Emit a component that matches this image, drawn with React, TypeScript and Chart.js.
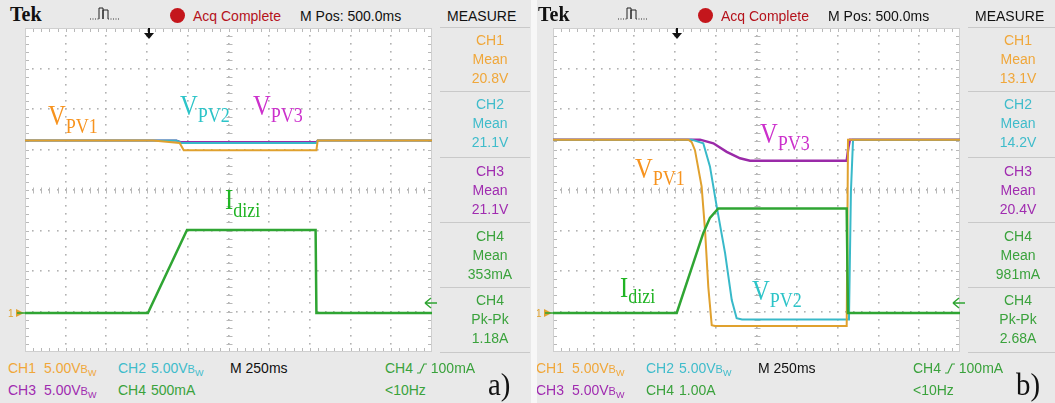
import React, { useEffect, useRef } from "react";
import { Chart, registerables } from "chart.js";

Chart.register(...registerables);

// ---------------- DATA ----------------
// Horizontal: M 250ms/div, 10 divisions across the screen
const TIME_SPAN_MS = 2500;

// Panel a) — CH1..CH3 in volts, CH4 in mA
const A_CH1_T = [0, 786, 950, 975, 1790, 1798, 2500];
const A_CH1_V = [21.3, 21.3, 21.0, 20.1, 20.1, 21.3, 21.3];
const A_CH2_T = [0, 930, 960, 1790, 1798, 2500];
const A_CH2_V = [21.3, 21.3, 21.0, 21.0, 21.3, 21.3];
const A_CH3_T = [0, 930, 960, 1790, 1798, 2500];
const A_CH3_V = [21.3, 21.3, 21.1, 21.1, 21.3, 21.3];
const A_CH4_T = [0, 755, 995, 1785, 1790, 2500];
const A_CH4_I = [0, 0, 1025, 1025, 0, 0];

// Panel b) — CH1..CH3 in volts, CH4 in A
const B_CH1_T = [0, 831, 852, 872, 913, 934, 954, 975, 995, 1804, 1812, 2500];
const B_CH1_V = [21.4, 21.4, 21.1, 20.1, 15.6, 10.2, 3.2, -1.5, -1.6, -1.6, 21.4, 21.4];
const B_CH2_T = [0, 852, 923, 964, 1006, 1057, 1098, 1128, 1161, 1818, 1830, 1843, 2500];
const B_CH2_V = [21.4, 21.4, 20.95, 18.1, 13.1, 7.4, 1.6, -0.65, -0.8, -0.8, 15.0, 21.4, 21.4];
const B_CH3_T = [0, 903, 985, 1067, 1149, 1210, 1804, 1815, 1824, 2500];
const B_CH3_V = [21.4, 21.4, 20.95, 19.9, 19.1, 18.8, 18.8, 20.5, 21.4, 21.4];
const B_CH4_T = [0, 760, 923, 964, 1015, 1804, 1812, 2500];
const B_CH4_I = [0, 0, 1.97, 2.35, 2.58, 2.58, 0, 0];

// Measurements
const MEAS_CH = ["CH1", "CH2", "CH3", "CH4", "CH4"];
const MEAS_TYPE = ["Mean", "Mean", "Mean", "Mean", "Pk-Pk"];
const A_MEAS_VAL = ["20.8V", "21.1V", "21.1V", "353mA", "1.18A"];
const B_MEAS_VAL = ["13.1V", "14.2V", "20.4V", "981mA", "2.68A"];

// Scales
const A_V_PER_DIV = 5;
const A_I_PER_DIV = 500;
const A_CH4_SCALE = "500mA";
const B_V_PER_DIV = 5;
const B_I_PER_DIV = 1;
const B_CH4_SCALE = "1.00A";

// ---------------- STYLE ----------------
const C1 = "#e0a12e";
const C2 = "#38b9c9";
const C3 = "#9a2aa8";
const C4 = "#2fa533";
const T1 = "#f0a73a";
const T2 = "#3fbccb";
const T3 = "#a02cb0";
const T4 = "#3aa23c";
const L1 = "#f7931e";
const L2 = "#2cc4c8";
const L3 = "#cc30cc";
const L4 = "#20b424";
const SANS = "'Liberation Sans', Arial, sans-serif";
const SERIF = "'Liberation Serif', 'Times New Roman', serif";

const GX = 25, GY = 28, GW = 407, GH = 324;
const GROUND_DIV = 0.963;

const graticule = {
  id: "graticule",
  beforeDatasetsDraw(chart: any) {
    const { ctx, chartArea } = chart;
    const { left, top, right, bottom } = chartArea;
    const W = right - left, H = bottom - top;
    const dx = W / 10, dy = H / 8;
    ctx.save();
    ctx.fillStyle = "#ffffff";
    ctx.fillRect(left, top, W, H);
    ctx.fillStyle = "#b2b2b2";
    const dot = (x: number, y: number) => ctx.fillRect(Math.round(x) - 1, Math.round(y) - 1, 1.6, 1.6);
    for (let i = 1; i < 10; i++) {
      const x = left + i * dx;
      for (let j = 0; j <= 40; j++) dot(x, top + (j * dy) / 5);
    }
    for (let j = 1; j < 8; j++) {
      const y = top + j * dy;
      for (let i = 0; i <= 50; i++) dot(left + (i * dx) / 5, y);
    }
    ctx.strokeStyle = "#b8b8b8";
    ctx.lineWidth = 1;
    ctx.beginPath();
    const cx = Math.round(left + 5 * dx) + 0.5;
    const cy = Math.round(top + 4 * dy) + 0.5;
    for (let j = 0; j <= 40; j++) {
      const y = Math.round(top + (j * dy) / 5) + 0.5;
      ctx.moveTo(cx - 3, y); ctx.lineTo(cx + 3, y);
      ctx.moveTo(left, y); ctx.lineTo(left + 4, y);
      ctx.moveTo(right - 4, y); ctx.lineTo(right, y);
    }
    for (let i = 0; i <= 50; i++) {
      const x = Math.round(left + (i * dx) / 5) + 0.5;
      ctx.moveTo(x, cy - 3); ctx.lineTo(x, cy + 3);
      ctx.moveTo(x, top); ctx.lineTo(x, top + 4);
      ctx.moveTo(x, bottom - 4); ctx.lineTo(x, bottom);
    }
    ctx.stroke();
    ctx.strokeStyle = "#cfcfcf";
    ctx.strokeRect(left + 0.5, top + 0.5, W - 1, H - 1);
    ctx.restore();
  },
};

type Series = { t: number[]; v: number[]; color: string; width: number; axis: string };

function Scope({ series, vPerDiv, iPerDiv }: { series: Series[]; vPerDiv: number; iPerDiv: number }) {
  const ref = useRef<HTMLCanvasElement>(null);
  useEffect(() => {
    const chart = new Chart(ref.current as HTMLCanvasElement, {
      type: "line",
      data: {
        datasets: series.map((s) => ({
          data: s.t.map((t, i) => ({ x: t, y: s.v[i] })),
          borderColor: s.color,
          borderWidth: s.width,
          pointRadius: 0,
          tension: 0,
          fill: false,
          yAxisID: s.axis,
        })),
      },
      options: {
        animation: false,
        responsive: false,
        maintainAspectRatio: false,
        events: [],
        layout: { padding: 0 },
        plugins: { legend: { display: false }, tooltip: { enabled: false } },
        scales: {
          x: { type: "linear", min: 0, max: TIME_SPAN_MS, display: false },
          yV: { type: "linear", min: -GROUND_DIV * vPerDiv, max: (8 - GROUND_DIV) * vPerDiv, display: false },
          yI: { type: "linear", min: -GROUND_DIV * iPerDiv, max: (8 - GROUND_DIV) * iPerDiv, display: false },
        },
      } as any,
      plugins: [graticule],
    });
    return () => chart.destroy();
  }, []);
  return (
    <canvas
      ref={ref}
      width={GW}
      height={GH}
      style={{ position: "absolute", left: GX, top: GY, width: GW, height: GH, background: "#fff" }}
    />
  );
}

function T({ x, cy, color, children, size = 14, center, w }: any) {
  return (
    <div
      style={{
        position: "absolute",
        left: x,
        top: cy - size / 2,
        width: w,
        textAlign: center ? "center" : "left",
        fontFamily: SANS,
        fontSize: size,
        lineHeight: `${size}px`,
        color,
        whiteSpace: "nowrap",
      }}
    >
      {children}
    </div>
  );
}

function Label({ x, base, main, sub, color, fs = 30, sfs = 22, dy = 8 }: any) {
  return (
    <div
      style={{
        position: "absolute",
        left: x,
        top: base - 0.8375 * fs,
        fontFamily: SERIF,
        fontSize: fs,
        lineHeight: `${fs}px`,
        color,
        whiteSpace: "nowrap",
        transform: "scaleX(0.82)",
        transformOrigin: "left top",
      }}
    >
      {main}
      <span style={{ fontSize: sfs, position: "relative", top: dy }}>{sub}</span>
    </div>
  );
}

const BW = () => (
  <span>
    5.00V<span style={{ fontSize: 11 }}>B</span>
    <span style={{ fontSize: 9, position: "relative", top: 3 }}>W</span>
  </span>
);

function Panel({ p }: { p: any }) {
  const blocks = [40, 104, 171, 236, 300];
  const seps = [27, 91, 157, 222, 287, 352];
  const measColors = [T1, T2, T3, T4, T4];
  return (
    <div style={{ position: "absolute", left: 0, top: 0, width: 531, height: 403, background: "#e9e9e9" }}>
      <Scope series={p.series} vPerDiv={p.vPerDiv} iPerDiv={p.iPerDiv} />

      {/* top bar */}
      <div style={{ position: "absolute", left: 10, top: 0, fontFamily: SERIF, fontWeight: "bold", fontSize: 20, lineHeight: "28px", color: "#111" }}>
        Tek
      </div>
      <svg style={{ position: "absolute", left: 88, top: 4 }} width={36} height={18}>
        <path d="M2 15 H11" stroke="#333" strokeWidth={1} strokeDasharray="1 1.5" />
        <path d="M11 15 V4 H15 V15 M15 15 V6 H20 V15" stroke="#222" strokeWidth={1} fill="none" />
        <path d="M20 15 H32" stroke="#333" strokeWidth={1} strokeDasharray="1 1.5" />
      </svg>
      <div style={{ position: "absolute", left: 170, top: 8, width: 15, height: 15, borderRadius: "50%", background: "#c4161c" }} />
      <T x={193} cy={16} color="#b5121b">Acq Complete</T>
      <T x={300} cy={16} color="#111">M Pos: 500.0ms</T>
      <T x={447} cy={16} color="#111">MEASURE</T>

      {/* trigger position arrow */}
      <svg style={{ position: "absolute", left: 142, top: 28 }} width={14} height={12}>
        <path d="M7 0 V6" stroke="#111" strokeWidth={2} />
        <path d="M2 5 H12 L7 11 Z" fill="#111" />
      </svg>

      {/* ground marker */}
      <svg style={{ position: "absolute", left: 8, top: 306 }} width={18} height={14}>
        <text x={0} y={11} fontFamily={SANS} fontSize={10} fill={C1}>1</text>
        <path d="M8 3 L16 7 L8 11 Z" fill={C1} />
        <path d="M9 7 H17" stroke={C4} strokeWidth={1.5} />
      </svg>

      {/* trigger level marker */}
      <svg style={{ position: "absolute", left: 424, top: 297 }} width={14} height={12}>
        <path d="M1 6 L7 1 M1 6 L7 11 M1 6 H13" stroke={C4} strokeWidth={1.5} fill="none" />
      </svg>

      {/* measure column */}
      {seps.map((y, i) => (
        <div key={"s" + i} style={{ position: "absolute", left: 440, top: y, width: 90, height: 1, background: "#c9c9c9" }} />
      ))}
      {blocks.map((cy, i) => (
        <React.Fragment key={"m" + i}>
          <T x={445} w={90} center cy={cy} color={measColors[i]}>{MEAS_CH[i]}</T>
          <T x={445} w={90} center cy={cy + 19} color={measColors[i]}>{MEAS_TYPE[i]}</T>
          <T x={445} w={90} center cy={cy + 38} color={measColors[i]}>{p.meas[i]}</T>
        </React.Fragment>
      ))}

      {/* bottom bar */}
      <T x={8} cy={368} color={T1}>CH1</T>
      <T x={44} cy={368} color={T1}><BW /></T>
      <T x={118} cy={368} color={T2}>CH2</T>
      <T x={151} cy={368} color={T2}><BW /></T>
      <T x={230} cy={368} color="#111">M 250ms</T>
      <T x={385} cy={368} color={T4}>
        CH4{" "}
        <svg width={10} height={11} style={{ verticalAlign: "-1px" }}>
          <path d="M0 10 H3 L7 1 H10" stroke={T4} strokeWidth={1.2} fill="none" />
        </svg>{" "}
        100mA
      </T>
      <T x={8} cy={390} color={T3}>CH3</T>
      <T x={44} cy={390} color={T3}><BW /></T>
      <T x={118} cy={390} color={T4}>CH4</T>
      <T x={151} cy={390} color={T4}>{p.ch4Scale}</T>
      <T x={385} cy={390} color={T4}>&lt;10Hz</T>
      <div style={{ position: "absolute", left: 488, top: 395 - 0.8375 * 32, fontFamily: SERIF, fontSize: 32, lineHeight: "32px", color: "#111", transform: "scaleX(0.9)", transformOrigin: "left top" }}>
        {p.letter}
      </div>

      {p.labels.map((l: any, i: number) => (
        <Label key={"l" + i} {...l} />
      ))}
    </div>
  );
}

const PANEL_A = {
  vPerDiv: A_V_PER_DIV,
  iPerDiv: A_I_PER_DIV,
  ch4Scale: A_CH4_SCALE,
  meas: A_MEAS_VAL,
  letter: "a)",
  series: [
    { t: A_CH4_T, v: A_CH4_I, color: C4, width: 2.5, axis: "yI" },
    { t: A_CH1_T, v: A_CH1_V, color: C1, width: 2, axis: "yV" },
    { t: A_CH2_T, v: A_CH2_V, color: C2, width: 2, axis: "yV" },
    { t: A_CH3_T, v: A_CH3_V, color: C3, width: 2, axis: "yV" },
  ],
  labels: [
    { x: 48, base: 125, main: "V", sub: "PV1", color: L1 },
    { x: 180, base: 115, main: "V", sub: "PV2", color: L2, dy: 7 },
    { x: 253, base: 115, main: "V", sub: "PV3", color: L3, dy: 7 },
    { x: 225, base: 209, main: "I", sub: "dizi", color: L4 },
  ],
};

const PANEL_B = {
  vPerDiv: B_V_PER_DIV,
  iPerDiv: B_I_PER_DIV,
  ch4Scale: B_CH4_SCALE,
  meas: B_MEAS_VAL,
  letter: "b)",
  series: [
    { t: B_CH4_T, v: B_CH4_I, color: C4, width: 2.5, axis: "yI" },
    { t: B_CH1_T, v: B_CH1_V, color: C1, width: 2, axis: "yV" },
    { t: B_CH2_T, v: B_CH2_V, color: C2, width: 2, axis: "yV" },
    { t: B_CH3_T, v: B_CH3_V, color: C3, width: 2.5, axis: "yV" },
  ],
  labels: [
    { x: 232, base: 143, main: "V", sub: "PV3", color: L3, dy: 7 },
    { x: 107, base: 178, main: "V", sub: "PV1", color: L1, dy: 7 },
    { x: 92, base: 297, main: "I", sub: "dizi", color: L4, dy: 6 },
    { x: 224, base: 300, main: "V", sub: "PV2", color: L2, dy: 7 },
  ],
};

export default function App() {
  return (
    <div style={{ position: "fixed", left: 0, top: 0, width: 1055, height: 403, background: "#f7f7f7", overflow: "hidden" }}>
      <div style={{ position: "absolute", left: 0, top: 0, width: 531, height: 403, overflow: "hidden" }}>
        <Panel p={PANEL_A} />
      </div>
      <div style={{ position: "absolute", left: 537, top: 0, width: 518, height: 403, overflow: "hidden" }}>
        <div style={{ position: "absolute", left: -9, top: 0, width: 531, height: 403 }}>
          <Panel p={PANEL_B} />
        </div>
      </div>
    </div>
  );
}
